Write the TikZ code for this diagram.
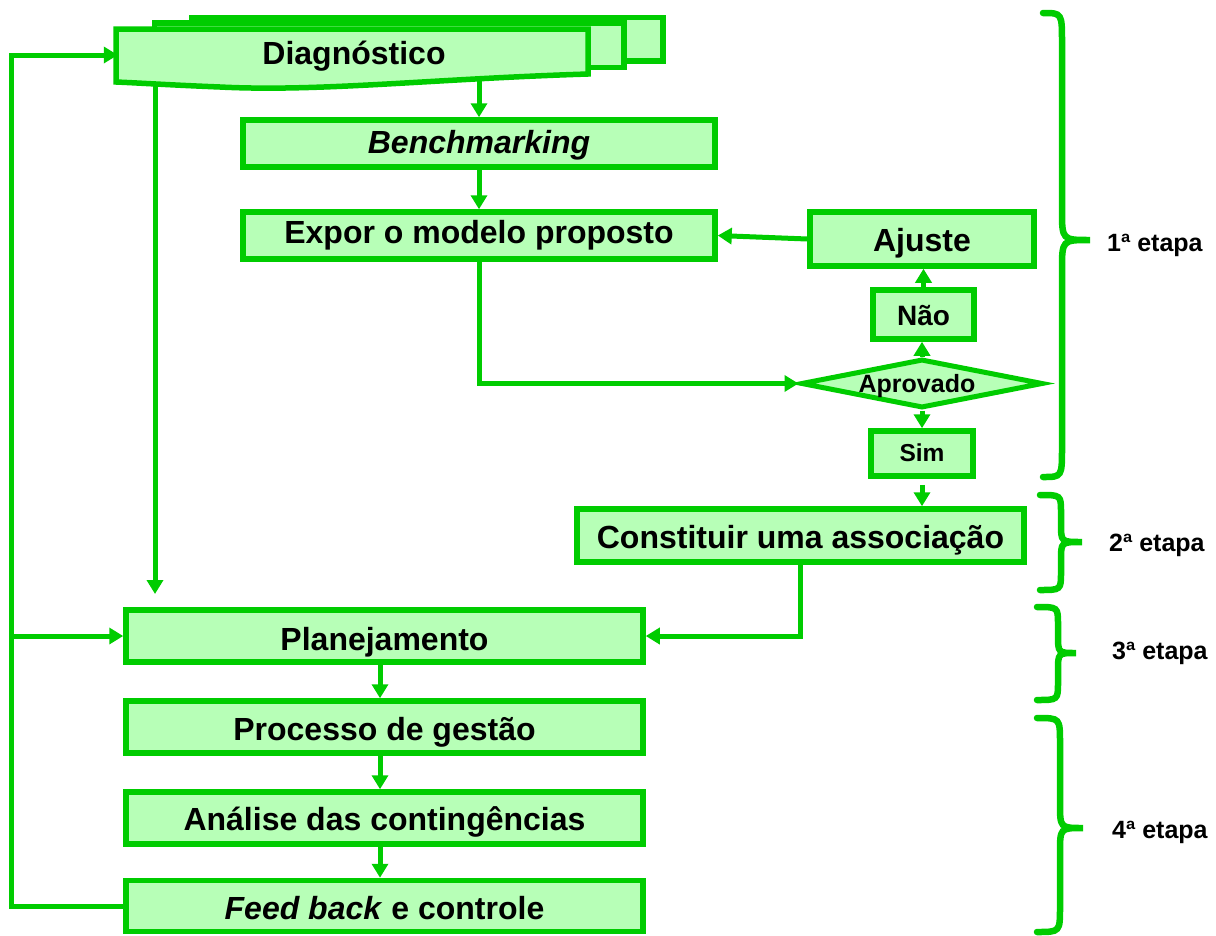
\documentclass[tikz,border=0pt]{standalone}
\usepackage{fontspec}
\setmainfont{Liberation Sans}
\usetikzlibrary{shapes.geometric,arrows.meta,calc}
\pgfdeclarelayer{bg}
\pgfsetlayers{bg,main}
\definecolor{gline}{RGB}{0,204,0}
\definecolor{gfill}{RGB}{183,255,183}
\newcommand\mybrace[7]{%
  \draw[brc] (#1,#2) .. controls (#4,#2) and (#4,#2) .. (#4,#2+#7)
    -- (#4,#6-#7) .. controls (#4,#6) and (#4,#6) .. (#5,#6)
    .. controls (#4,#6) and (#4,#6) .. (#4,#6+#7)
    -- (#4,#3-#7) .. controls (#4,#3) and (#4,#3) .. (#1,#3);}
\begin{document}
\begin{tikzpicture}[x=1pt,y=-1pt,
  box/.style={draw=gline,fill=gfill,line width=5.5pt,inner sep=0pt,text depth=0pt,
    font=\fontsize{32}{38}\selectfont\bfseries},
  conn/.style={draw=gline,line width=5pt},
  arr/.style={conn,-{Triangle[length=14pt,width=16pt]}},
  brc/.style={draw=gline,line width=6.5pt,line cap=round},
  lab/.style={font=\fontsize{25}{30}\selectfont\bfseries,anchor=west,inner sep=0pt}]
\useasboundingbox (0,0) rectangle (1216,935);

% Diagnostico (multi-document)
\path[box] (192,17.5) rectangle (663,61);
\path[box] (154.5,23) rectangle (624,67.5);
\path[box] (116,29) -- (588,29) -- (588,74)
  .. controls (430,79) and (320,92) .. (220,87)
  .. controls (170,85) and (140,83) .. (116,82) -- cycle;
\node[font=\fontsize{32}{38}\selectfont\bfseries,inner sep=0pt,text height=18.6pt,text depth=0pt,
  minimum width=472pt,minimum height=48pt] (diag) at (354,55) {Diagnóstico};

\node[box,minimum width=472pt,minimum height=47pt,text height=19.6pt] (bench) at (479,143.5) {\textit{Benchmarking}};
\node[box,minimum width=472pt,minimum height=47pt,text height=15.6pt] (expor) at (479,235.5) {Expor o modelo proposto};
\node[box,minimum width=224pt,minimum height=54pt,text height=24pt] (aj) at (922,239) {Ajuste};
\node[box,minimum width=101pt,minimum height=49pt,text height=21pt,font=\fontsize{28}{34}\selectfont\bfseries] (nao) at (923.5,314.5) {Não};
\node[box,line width=5pt,diamond,aspect=5,minimum width=242pt,minimum height=49pt] (dia) at (922,383.5) {};
\node[font=\fontsize{25}{30}\selectfont\bfseries,inner sep=0pt,text height=18.4pt,text depth=0pt] (apr) at (917,383.5) {Aprovado};
\node[box,minimum width=102pt,minimum height=45pt,text height=16.4pt,font=\fontsize{24.5}{30}\selectfont\bfseries] (sim) at (922,453.5) {Sim};
\node[box,minimum width=447pt,minimum height=53pt,text height=25.6pt] (con) at (800.5,535.5) {Constituir uma associação};
\node[box,minimum width=517pt,minimum height=52pt,text height=28pt] (plan) at (384.5,636) {Planejamento};
\node[box,minimum width=517pt,minimum height=52pt,text height=26pt] (proc) at (384.5,727) {Processo de gestão};
\node[box,minimum width=517pt,minimum height=52pt,text height=24pt] (ana) at (384.5,818) {Análise das contingências};
\node[box,minimum width=517pt,minimum height=51pt,text height=26pt] (feed) at (384.5,906) {\textit{Feed back} e controle};

% connectors
\coordinate (xa) at (380,0);
\coordinate (xl) at (11,0);
\coordinate (pd) at (155,594);
\begin{pgfonlayer}{bg}
\draw[arr] (pd |- diag.south) -- (pd);
\end{pgfonlayer}
\draw[arr] (bench.north |- diag.south) -- (bench.north);
\draw[arr] (bench.south) -- (expor.north);
\draw[arr] (aj.west) -- (expor.east);
\draw[arr] (expor.south) |- (dia.west);
\draw[arr] (dia.north) -- (dia.north |- nao.south);
\draw[arr] (nao.north) -- (nao.north |- aj.south);
\draw[arr] (dia.south) -- (dia.south |- sim.north);
\draw[arr,shorten <=6pt] (sim.south) -- (sim.south |- con.north);
\draw[arr] (con.south) |- (plan.east);
\draw[arr] (xa |- plan.south) -- (xa |- proc.north);
\draw[arr] (xa |- proc.south) -- (xa |- ana.north);
\draw[arr] (xa |- ana.south) -- (xa |- feed.north);
\draw[arr] (feed.west) -- (xl |- feed.west) -- (xl |- diag.west) -- (diag.west);
\draw[arr] (xl |- plan.west) -- (plan.west);

% braces
\mybrace{1043}{13}{477}{1062}{1090}{240}{30}
\mybrace{1040}{495}{590}{1061}{1082}{542}{18}
\mybrace{1037}{607}{700}{1058}{1076}{653}{18}
\mybrace{1037}{718}{932}{1060}{1083}{828}{25}

\node[lab] (l1) at (1107,245) {1ª etapa};
\node[lab] (l2) at (1109,545) {2ª etapa};
\node[lab] (l3) at (1112,653) {3ª etapa};
\node[lab] (l4) at (1112,832) {4ª etapa};
\end{tikzpicture}
\end{document}
